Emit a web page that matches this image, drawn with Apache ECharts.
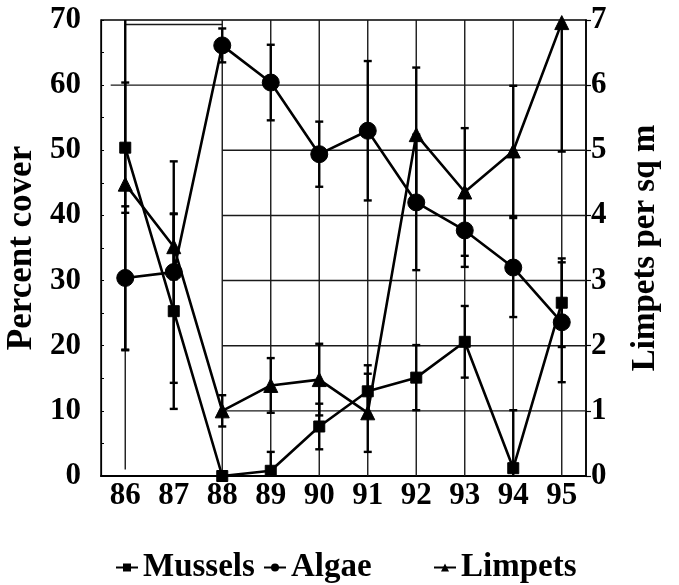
<!DOCTYPE html>
<html>
<head>
<meta charset="utf-8">
<script src="https://cdn.jsdelivr.net/npm/echarts@6/dist/echarts.min.js"></script>
<style>
  html, body { margin: 0; padding: 0; background: #fff; }
  #chart { width: 679px; height: 585px; }
</style>
</head>
<body>
<div id="chart"></div>
<script>
// Survey years (19xx)
const years = ['86', '87', '88', '89', '90', '91', '92', '93', '94', '95'];

// Percent cover (left axis)
const mussels    = [50.4, 25.3, 0.0, 0.8, 7.6, 13.0, 15.1, 20.6, 1.2, 26.6];
const musselsErr = [10.0, 15.0, 0.0, 2.9, 3.5, 4.0, 5.0, 5.5, 8.9, 6.8];
const algae      = [30.4, 31.3, 66.1, 60.4, 49.4, 53.0, 42.0, 37.7, 32.0, 23.6];
const algaeErr   = [11.0, 17.0, 2.6, 5.8, 5.0, 10.7, 10.4, 5.6, 7.6, 9.2];

// Limpet density (right axis)
const limpets    = [4.48, 3.52, 1.00, 1.39, 1.48, 0.97, 5.24, 4.36, 4.99, 6.96];
const limpetsErr = [2.55, 0.50, 0.24, 0.42, 0.55, 0.60, 1.03, 0.98, 1.00, 1.98];

// Grid rules: horizontal [fromYear, toYear, percent], vertical [year, fromPercent, toPercent]
const hRules = [[88, 95.5, 10], [88, 95.5, 20], [88, 95.5, 30], [88, 95.5, 40], [88, 95.5, 50],
                [85.7, 95.5, 60], [86, 88, 69.3]];
const vRules = [[86, 1, 70], [88, 0, 70], [89, 0, 70], [90, 0, 70], [91, 0, 70],
                [92, 0, 70], [93, 0, 70], [94, 0, 70], [95, 0, 70]];

const FONT = "'Liberation Serif', 'Times New Roman', serif";
const INK = '#000';

function errorBars(name, values, errs, yAxisIndex) {
  return {
    name: name + ' SE',
    type: 'custom',
    xAxisIndex: 0,
    yAxisIndex: yAxisIndex,
    clip: true,
    silent: true,
    z: 3,
    data: values.map((v, i) => [i, v - errs[i], v + errs[i]]),
    encode: { x: 0, y: [1, 2] },
    renderItem(params, api) {
      const lo = api.coord([api.value(0), api.value(1)]);
      const hi = api.coord([api.value(0), api.value(2)]);
      const cap = 4;
      const st = { stroke: INK, lineWidth: 2.4 };
      return {
        type: 'group',
        children: [
          { type: 'line', shape: { x1: lo[0], y1: lo[1], x2: hi[0], y2: hi[1] }, style: st },
          { type: 'line', shape: { x1: lo[0] - cap, y1: lo[1], x2: lo[0] + cap, y2: lo[1] }, style: st },
          { type: 'line', shape: { x1: hi[0] - cap, y1: hi[1], x2: hi[0] + cap, y2: hi[1] }, style: st }
        ]
      };
    }
  };
}

function lineSeries(name, values, symbol, size, yAxisIndex) {
  return {
    name: name,
    type: 'line',
    xAxisIndex: 0,
    yAxisIndex: yAxisIndex,
    data: values,
    symbol: symbol,
    symbolSize: size,
    showAllSymbol: true,
    z: 5,
    lineStyle: { color: INK, width: 2.6 },
    itemStyle: { color: INK, borderColor: INK },
    emphasis: { disabled: true },
    animation: false
  };
}

const legendText = { fontFamily: FONT, fontWeight: 'bold', fontSize: 33, color: INK };
function legendAt(name, left) {
  return {
    data: [name], left: left, top: 546, itemWidth: 22, itemHeight: 10, itemGap: 4,
    textStyle: legendText, selectedMode: false
  };
}

const chart = echarts.init(document.getElementById('chart'), null, { renderer: 'canvas' });
chart.setOption({
  animation: false,
  backgroundColor: '#fff',
  grid: {
    left: 101, right: 93, top: 20, bottom: 109,
    outerBoundsMode: 'none',
    show: true, borderColor: INK, borderWidth: 1.5, backgroundColor: 'transparent'
  },
  legend: [legendAt('Mussels', 110), legendAt('Algae', 258), legendAt('Limpets', 428)],
  xAxis: [
    {
      type: 'category',
      data: years,
      boundaryGap: true,
      axisLine: { lineStyle: { color: INK, width: 2 } },
      axisTick: { alignWithLabel: true, length: 5, lineStyle: { color: INK, width: 2 } },
      axisLabel: { fontFamily: FONT, fontWeight: 'bold', fontSize: 31, color: INK, margin: 4 },
      splitLine: { show: false }
    },
    { type: 'value', min: 85.5, max: 95.5, show: false }
  ],
  yAxis: [
    {
      type: 'value', min: 0, max: 70, interval: 10,
      name: 'Percent cover', nameLocation: 'middle', nameRotate: 90, nameGap: 60,
      nameTextStyle: { fontFamily: FONT, fontWeight: 'bold', fontSize: 35, color: INK },
      axisLine: { show: true, lineStyle: { color: INK, width: 1.2 } },
      axisTick: { show: true, inside: true, length: 3, lineStyle: { color: INK } },
      minorTick: { show: true, splitNumber: 2, length: 3, lineStyle: { color: INK } },
      axisLabel: { fontFamily: FONT, fontWeight: 'bold', fontSize: 31, color: INK, margin: 20 },
      splitLine: { show: false }
    },
    {
      type: 'value', min: 0, max: 7, interval: 1, position: 'right',
      name: 'Limpets per sq m', nameLocation: 'middle', nameRotate: 90, nameGap: 43,
      nameTextStyle: { fontFamily: FONT, fontWeight: 'bold', fontSize: 33, color: INK },
      axisLine: { show: true, lineStyle: { color: INK, width: 1.5 } },
      axisTick: { show: true, length: 5, lineStyle: { color: INK, width: 1.2 } },
      axisLabel: { fontFamily: FONT, fontWeight: 'bold', fontSize: 31, color: INK, margin: 5 },
      splitLine: { show: false }
    }
  ],
  series: [
    {
      name: 'rules-h', type: 'custom', xAxisIndex: 1, yAxisIndex: 0, silent: true, z: 1,
      data: hRules, encode: { x: [0, 1], y: 2 },
      renderItem(params, api) {
        const a = api.coord([api.value(0), api.value(2)]);
        const b = api.coord([api.value(1), api.value(2)]);
        return { type: 'line', shape: { x1: a[0], y1: a[1], x2: b[0], y2: b[1] },
                 style: { stroke: '#1a1a1a', lineWidth: 1.4 } };
      }
    },
    {
      name: 'rules-v', type: 'custom', xAxisIndex: 1, yAxisIndex: 0, silent: true, z: 1,
      data: vRules, encode: { x: 0, y: [1, 2] },
      renderItem(params, api) {
        const a = api.coord([api.value(0), api.value(1)]);
        const b = api.coord([api.value(0), api.value(2)]);
        return { type: 'line', shape: { x1: a[0], y1: a[1], x2: b[0], y2: b[1] },
                 style: { stroke: '#1a1a1a', lineWidth: 1.4 } };
      }
    },
    errorBars('Mussels', mussels, musselsErr, 0),
    errorBars('Algae', algae, algaeErr, 0),
    errorBars('Limpets', limpets, limpetsErr, 1),
    lineSeries('Mussels', mussels, 'rect', 11, 0),
    lineSeries('Algae', algae, 'circle', 17, 0),
    lineSeries('Limpets', limpets, 'triangle', 14, 1)
  ]
});
</script>
</body>
</html>
